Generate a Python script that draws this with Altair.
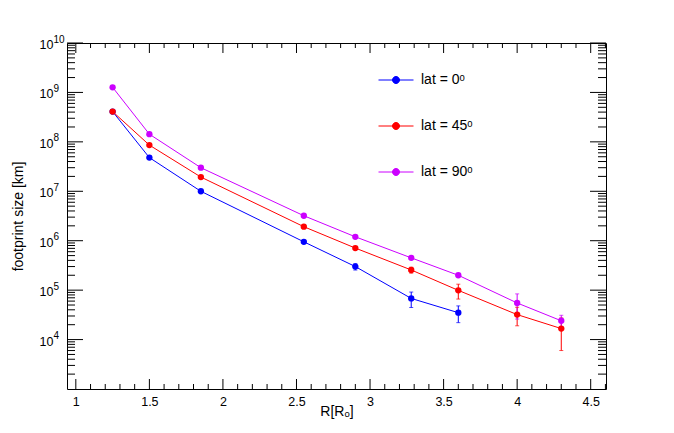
import altair as alt
import pandas as pd

# ---------------- data ----------------
SERIES = ["lat = 0ᵒ", "lat = 45ᵒ", "lat = 90ᵒ"]
COLORS = ["#0000ff", "#ff0000", "#cc00ff"]

R_0 = [1.25, 1.5, 1.85, 2.55, 2.9, 3.28, 3.6]
V_0 = [4.1e8, 4.8e7, 1.0e7, 9.5e5, 3.0e5, 6.8e4, 3.5e4]
E_0 = [0, 0, 0, 0, 4.5e4, 2.35e4, 1.3e4]

R_45 = [1.25, 1.5, 1.85, 2.55, 2.9, 3.28, 3.6, 4.0, 4.3]
V_45 = [4.1e8, 8.6e7, 1.94e7, 1.92e6, 7.1e5, 2.56e5, 9.9e4, 3.2e4, 1.67e4]
E_45 = [0, 0, 0, 0, 4e4, 3.5e4, 3.3e4, 1.3e4, 1.07e4]

R_90 = [1.25, 1.5, 1.85, 2.55, 2.9, 3.28, 3.6, 4.0, 4.3]
V_90 = [1.27e9, 1.43e8, 3.0e7, 3.2e6, 1.2e6, 4.5e5, 2.0e5, 5.5e4, 2.4e4]
E_90 = [0, 0, 0, 0, 0, 0, 0, 2.9e4, 7e3]

X_MAJOR = [1, 1.5, 2, 2.5, 3, 3.5, 4, 4.5]
X_MINOR = [round(1.0 + 0.1 * i, 2) for i in range(37)]
Y_MAJOR = [1e4, 1e5, 1e6, 1e7, 1e8, 1e9, 1e10]
Y_EXPONENTS = ["4", "5", "6", "7", "8", "9", "10"]
Y_MINOR = [m * 10.0 ** k for k in range(3, 10) for m in range(2, 10)]

X_TITLE = "R[Rₒ]"
Y_TITLE = "footprint size [km]"

# ---------------- tables ----------------
rows = []
for name, rr, vv, ee in zip(SERIES, [R_0, R_45, R_90], [V_0, V_45, V_90], [E_0, E_45, E_90]):
    for r, v, e in zip(rr, vv, ee):
        rows.append({"R": r, "v": v, "lo": v - e, "hi": v + e, "err": e, "series": name})
df = pd.DataFrame(rows)
err_df = df[df["err"] > 0]
exp_df = pd.DataFrame({"v": Y_MAJOR, "e": Y_EXPONENTS})

W, H = 539, 346
FONT = "Liberation Sans"

x_scale = alt.Scale(domain=[0.94, 4.604], nice=False, zero=False)
y_scale = alt.Scale(type="log", domain=[1e3, 1e10], nice=False)
color_scale = alt.Scale(domain=SERIES, range=COLORS)

x_axis = alt.Axis(values=X_MAJOR, format="~g", ticks=False, domain=False, grid=False,
                  labelFontSize=12.5, labelFont=FONT, labelPadding=6, labelColor="black",
                  title=X_TITLE, titleFont=FONT, titleFontSize=14, titleFontWeight="normal",
                  titleX=W / 2, titleY=22, titleBaseline="middle", titleColor="black")
y_axis = alt.Axis(values=Y_MAJOR, labelExpr="'10'", ticks=False, domain=False, grid=False,
                  labelFontSize=12.5, labelFont=FONT, labelPadding=14, labelColor="black",
                  labelOffset=1.5,
                  title=Y_TITLE, titleFont=FONT, titleFontSize=14, titleFontWeight="normal",
                  titleX=-49, titleY=H / 2, titleBaseline="middle", titleColor="black")

LEG_PATH = "M-1,0L1,0M0.2,0A0.2,0.2,0,1,1,-0.2,0A0.2,0.2,0,1,1,0.2,0Z"
legend = alt.Legend(title=None, orient="none", legendX=311, legendY=19, padding=0,
                    symbolType=LEG_PATH, symbolSize=1225, symbolStrokeWidth=1,
                    symbolOpacity=1,
                    labelFont=FONT, labelFontSize=14, labelOffset=7, rowPadding=21,
                    labelColor="black")

base = alt.Chart(df)

lines = base.mark_line(strokeWidth=1).encode(
    x=alt.X("R:Q", scale=x_scale, axis=x_axis),
    y=alt.Y("v:Q", scale=y_scale, axis=y_axis),
    color=alt.Color("series:N", scale=color_scale, legend=legend),
    detail="series:N",
)
points = base.mark_circle(size=40, opacity=1).encode(
    x=alt.X("R:Q", scale=x_scale),
    y=alt.Y("v:Q", scale=y_scale),
    color=alt.Color("series:N", scale=color_scale, legend=legend),
)
ebars = alt.Chart(err_df).mark_rule(strokeWidth=1).encode(
    x=alt.X("R:Q", scale=x_scale),
    y=alt.Y("lo:Q", scale=y_scale),
    y2="hi:Q",
    color=alt.Color("series:N", scale=color_scale, legend=legend),
)
cap_lo = alt.Chart(err_df).mark_tick(orient="horizontal", size=4, thickness=1).encode(
    x=alt.X("R:Q", scale=x_scale),
    y=alt.Y("lo:Q", scale=y_scale),
    color=alt.Color("series:N", scale=color_scale, legend=legend),
)
cap_hi = alt.Chart(err_df).mark_tick(orient="horizontal", size=4, thickness=1).encode(
    x=alt.X("R:Q", scale=x_scale),
    y=alt.Y("hi:Q", scale=y_scale),
    color=alt.Color("series:N", scale=color_scale, legend=legend),
)

# exponents of the "10^n" tick labels
exponents = alt.Chart(exp_df).mark_text(align="left", baseline="alphabetic", dy=-0.5,
                                        font=FONT, fontSize=10, color="black").encode(
    y=alt.Y("v:Q", scale=y_scale), x=alt.value(-13.5), text="e:N")

# frame ticks (pointing inwards, as in the reference)
ymaj = pd.DataFrame({"v": Y_MAJOR})
ymin = pd.DataFrame({"v": [v for v in Y_MINOR if v not in Y_MAJOR]})
xmaj = pd.DataFrame({"v": X_MAJOR})
xmin = pd.DataFrame({"v": [v for v in X_MINOR if v not in X_MAJOR]})

def yticks(d, x0, x1):
    return alt.Chart(d).mark_rule(color="black", strokeWidth=1).encode(
        y=alt.Y("v:Q", scale=y_scale), x=alt.value(x0), x2=alt.value(x1))

def xticks(d, y0, y1):
    return alt.Chart(d).mark_rule(color="black", strokeWidth=1).encode(
        x=alt.X("v:Q", scale=x_scale), y=alt.value(y0), y2=alt.value(y1))

ticks = [
    yticks(ymaj, 0, 16), yticks(ymin, 0, 8),
    yticks(ymaj, W - 16, W), yticks(ymin, W - 8, W),
    xticks(xmaj, H - 10, H), xticks(xmin, H - 5, H),
    xticks(xmaj, 0, 10), xticks(xmin, 0, 5),
]

chart = alt.layer(lines, *ticks, exponents, ebars, cap_lo, cap_hi, points).properties(
    width=W, height=H,
    autosize=alt.AutoSizeParams(type="none"),
    padding={"left": 59, "top": 35, "right": 50, "bottom": 30},
    background="white",
).configure_view(stroke="black", strokeWidth=1)

chart.save("out.html", embed_options={"renderer": "svg", "actions": False})
